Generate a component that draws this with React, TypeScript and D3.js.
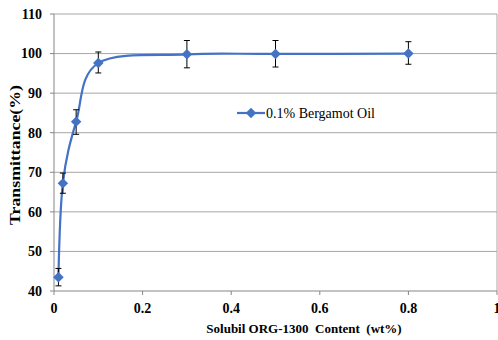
import React from "react";
import * as d3 from "d3";

const xValues = [0.01, 0.02, 0.05, 0.1, 0.3, 0.5, 0.8];
const yValues = [43.5, 67.2, 82.8, 97.6, 99.8, 99.9, 100.0];
const errLow = [41.3, 64.7, 79.6, 95.1, 96.4, 96.6, 97.3];
const errHigh = [45.7, 69.8, 85.8, 100.4, 103.3, 103.3, 103.0];
const xTicks = [0, 0.2, 0.4, 0.6, 0.8, 1];
const xTickLabels = ["0", "0.2", "0.4", "0.6", "0.8", "1"];
const yTicks = [40, 50, 60, 70, 80, 90, 100, 110];
const seriesName = "0.1% Bergamot Oil";
const xTitle = "Solubil ORG-1300\u00A0 Content\u00A0 (wt%)";
const yTitle = "Transmittance(%)";

const W = 498;
const H = 340;
const L = 54;
const R = 497;
const T = 14;
const B = 291;
const BLUE = "#4472C4";
const FONT = "Liberation Serif";
const GRID = "#a6a6a6";
const AXIS = "#868686";

export default function App() {
  React.useEffect(() => {
    document.body.style.margin = "0";
  }, []);

  const x = d3.scaleLinear().domain([0, 1]).range([L, R]);
  const y = d3.scaleLinear().domain([40, 110]).range([B, T]);
  const pts: [number, number][] = xValues.map((v, i) => [v, yValues[i]]);
  const line = d3
    .line<[number, number]>()
    .x((d) => x(d[0]))
    .y((d) => y(d[1]))
    .curve(d3.curveCardinal.tension(0));
  const diamond = d3.symbol().type(d3.symbolDiamond2).size(70)()!;
  const ly = 113;

  return (
    <svg width={W} height={H} style={{ display: "block" }}>
      <rect width={W} height={H} fill="#fff" />
      {yTicks
        .filter((d) => d > 40)
        .map((d) => (
          <line key={d} x1={L} x2={R} y1={y(d)} y2={y(d)} stroke={GRID} />
        ))}
      <line x1={R} x2={R} y1={T} y2={B} stroke={GRID} />
      {/* y axis */}
      <line x1={L} x2={L} y1={T} y2={B} stroke={AXIS} />
      {yTicks.map((d) => (
        <g key={d}>
          <line x1={L - 4} x2={L} y1={y(d)} y2={y(d)} stroke={AXIS} />
          <text
            x={L - 12}
            y={y(d)}
            dy="0.35em"
            textAnchor="end"
            fontFamily={FONT}
            fontWeight="bold"
            fontSize={14}
            fill="#000"
          >
            {String(d)}
          </text>
        </g>
      ))}
      {/* x axis */}
      <line x1={L} x2={R} y1={B} y2={B} stroke={AXIS} />
      {xTicks.map((d, i) => (
        <g key={d}>
          <line x1={x(d)} x2={x(d)} y1={B} y2={B + 4} stroke={AXIS} />
          <text
            x={x(d)}
            y={B + 17}
            dy="0.35em"
            textAnchor="middle"
            fontFamily={FONT}
            fontWeight="bold"
            fontSize={14}
            fill="#000"
          >
            {xTickLabels[i]}
          </text>
        </g>
      ))}
      {/* curve */}
      <path d={line(pts) || ""} fill="none" stroke={BLUE} strokeWidth={2.2} />
      {/* error bars */}
      <g stroke="#000" strokeWidth={1}>
        {xValues.map((v, i) => (
          <g key={i}>
            <line x1={x(v)} x2={x(v)} y1={y(errLow[i])} y2={y(errHigh[i])} />
            <line x1={x(v) - 3} x2={x(v) + 3} y1={y(errLow[i])} y2={y(errLow[i])} />
            <line x1={x(v) - 3} x2={x(v) + 3} y1={y(errHigh[i])} y2={y(errHigh[i])} />
          </g>
        ))}
      </g>
      {/* markers */}
      {pts.map((d, i) => (
        <path key={i} d={diamond} transform={`translate(${x(d[0])},${y(d[1])})`} fill={BLUE} />
      ))}
      {/* legend */}
      <line x1={237} x2={265} y1={ly} y2={ly} stroke={BLUE} strokeWidth={2.2} />
      <path d={diamond} transform={`translate(251,${ly})`} fill={BLUE} />
      <text x={266} y={ly} dy="0.35em" fontFamily={FONT} fontSize={14} fill="#000">
        {seriesName}
      </text>
      {/* titles */}
      <text
        x={304}
        y={333}
        textAnchor="middle"
        fontFamily={FONT}
        fontWeight="bold"
        fontSize={13}
        fill="#000"
      >
        {xTitle}
      </text>
      <text
        transform="translate(20,155) rotate(-90)"
        textAnchor="middle"
        fontFamily={FONT}
        fontWeight="bold"
        fontSize={14}
        textLength={140}
        lengthAdjust="spacingAndGlyphs"
        fill="#000"
      >
        {yTitle}
      </text>
    </svg>
  );
}
